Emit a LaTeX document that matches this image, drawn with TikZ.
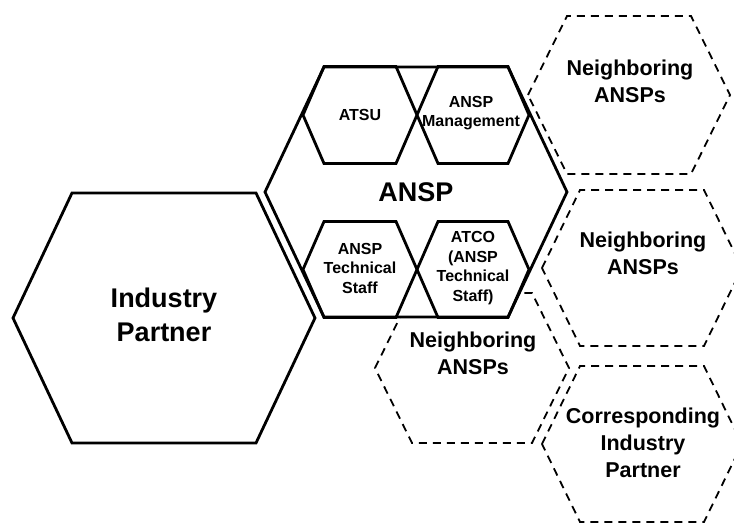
\documentclass[tikz,border=0pt]{standalone}
\usepackage{fontspec}
\setmainfont{Liberation Sans}
\usetikzlibrary{positioning}
\tikzset{
  pics/hexa/.style n args={3}{code={
    \path[pic actions] (-#1,0) -- (-#2,-#3) -- (#2,-#3) -- (#1,0) -- (#2,#3) -- (-#2,#3) -- cycle;}},
  solidhex/.style={draw,line width=2.8pt,line join=miter},
  dashhex/.style={draw,line width=1.8pt,dash pattern=on 8pt off 6pt},
  small/.style={font=\bfseries\fontsize{16}{19.5}\selectfont,align=center,inner sep=0pt},
  mid/.style={font=\bfseries\fontsize{21.5}{27}\selectfont,align=center,inner sep=0pt},
  big/.style={font=\bfseries\fontsize{27}{34}\selectfont,align=center,inner sep=0pt},
}

\begin{document}
\begin{tikzpicture}[x=1pt,y=-1pt]
\useasboundingbox (0,0) rectangle (734,526);

\pic[solidhex] at (164,318) {hexa={151}{92}{125}};
% lies behind the ANSP block
\pic[dashhex] at (472,368) {hexa={97}{60}{75}};
\pic[solidhex,fill=white] at (416,192) {hexa={151}{92}{125}};

\pic[solidhex] at (360,115) {hexa={57}{36}{48.5}};
\pic[solidhex] at (473,115) {hexa={56}{35}{48.5}};
\pic[solidhex] at (360,269.5) {hexa={57}{36}{48}};
\pic[solidhex] at (473,269.5) {hexa={56}{35}{48}};

\pic[dashhex] at (629,95) {hexa={101}{62}{79}};
\pic[dashhex] at (642,268) {hexa={100}{62}{78}};
\pic[dashhex] at (642,444) {hexa={100}{62}{78}};

\node[big] (ip) at (164,315) {Industry\\Partner};
\node[big] (ansp) at (416,192) {ANSP};
\node[small] (atsu) at (360,115) {ATSU};
\node[small] (mgmt) at (471,113) {ANSP\\Management};
\node[small] (tech) at (360,268) {ANSP\\Technical\\Staff};
\node[small] (atco) at (473,268) {ATCO\\(ANSP\\Technical\\Staff)};
\node[mid] (nbtop) at (630,81) {Neighboring\\ANSPs};
\node[mid] (nbmid) at (643,253) {Neighboring\\ANSPs};
\node[mid] (nbbot) at (473,353) {Neighboring\\ANSPs};
\node[mid] (corr) at (643,443) {Corresponding\\Industry\\Partner};

\end{tikzpicture}
\end{document}
